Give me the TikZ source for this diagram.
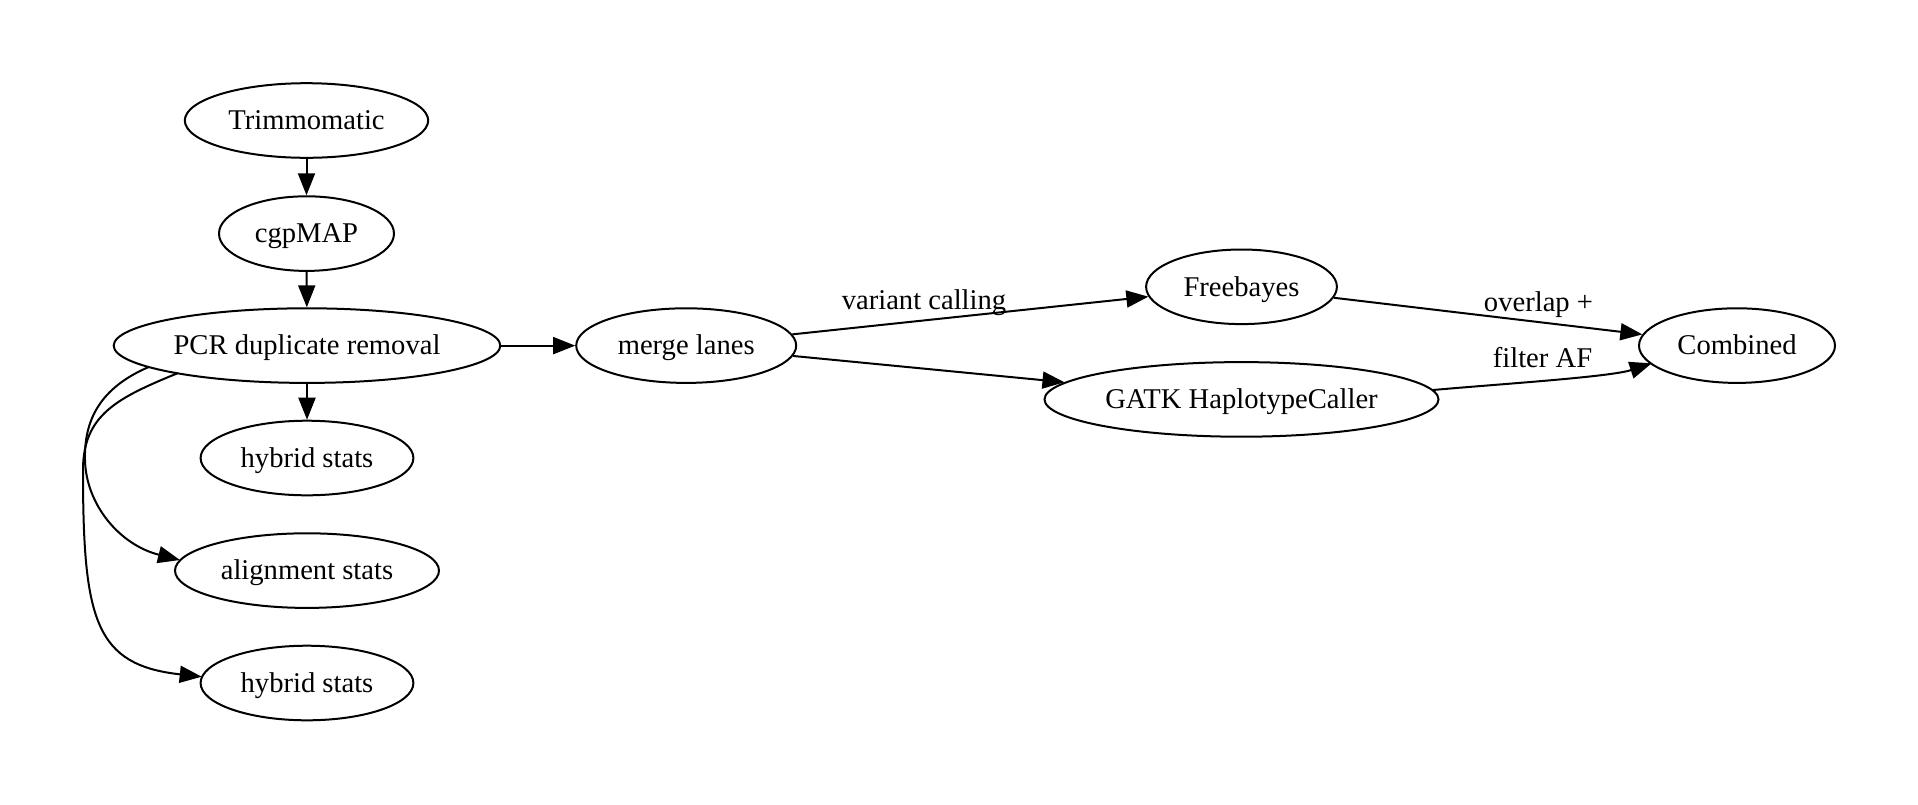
\documentclass[tikz,border=0pt]{standalone}
\usepackage{fontspec}
\setmainfont{Liberation Serif}
\usetikzlibrary{arrows.meta,shapes.geometric}
\begin{document}
\begin{tikzpicture}[x=0.5pt,y=-0.5pt,
  nd/.style={draw,ellipse,line width=1pt,inner sep=0pt,minimum height=37.3pt,
    text height=12.2pt,text depth=3pt,
    font=\fontsize{14.3pt}{17pt}\selectfont},
  edge/.style={line width=1pt,-{Triangle[length=11pt,width=8.5pt]}},
  lbl/.style={inner sep=0pt,font=\fontsize{14.3pt}{17pt}\selectfont}]
\useasboundingbox (0,0) rectangle (1918,804);
% nodes
\node[nd,minimum width=121.7pt] (trim)  at (306.5,120.5) {Trimmomatic};
\node[nd,minimum width=87.5pt]  (cgp)   at (306.5,233.6) {cgpMAP};
\node[nd,minimum width=193.3pt] (pcr)   at (307,345.6) {PCR duplicate removal};
\node[nd,minimum width=106.4pt] (hyb1)  at (307,458) {hybrid stats};
\node[nd,minimum width=132pt]   (align) at (307,570.6) {alignment stats};
\node[nd,minimum width=106.4pt] (hyb2)  at (307,683) {hybrid stats};
\node[nd,minimum width=110pt]   (merge) at (686.2,345.6) {merge lanes};
\node[nd,minimum width=95.4pt]  (fb)    at (1241.5,286.8) {Freebayes};
\node[nd,minimum width=197pt]   (gatk)  at (1241.5,399.4) {GATK HaplotypeCaller};
\node[nd,minimum width=98pt]    (comb)  at (1737,345.6) {Combined};
% edges
\draw[edge] (trim) -- (cgp);
\draw[edge] (cgp) -- (pcr);
\draw[edge] (pcr) -- (hyb1);
\draw[edge] (pcr) -- (merge);
\draw[edge] ([shift={(-158.3,21.4)}]pcr.center) .. controls (100,388) and (84,420) .. (85,460)
  .. controls (86,505) and (120,545) .. ([shift={(-127,-10.6)}]align.center);
\draw[edge] ([shift={(-129.6,27.7)}]pcr.center) .. controls (117,398) and (83,415) .. (83,470)
  .. controls (83,620) and (95,665) .. ([shift={(-105.3,-6.3)}]hyb2.center);
\draw[edge] (merge) -- (fb);
\draw[edge] (merge) -- (gatk);
\draw[edge] (fb) -- (comb);
\draw[edge] ([shift={(191.5,-9.4)}]gatk.center) .. controls (1500,384) and (1610,377)
  .. ([shift={(-85.3,17.7)}]comb.center);
% labels
\node[lbl] (l1) at (924,303) {variant calling};
\node[lbl] (l2) at (1538.5,305) {overlap +};
\node[lbl] (l3) at (1542.5,358) {filter AF};
\end{tikzpicture}
\end{document}
